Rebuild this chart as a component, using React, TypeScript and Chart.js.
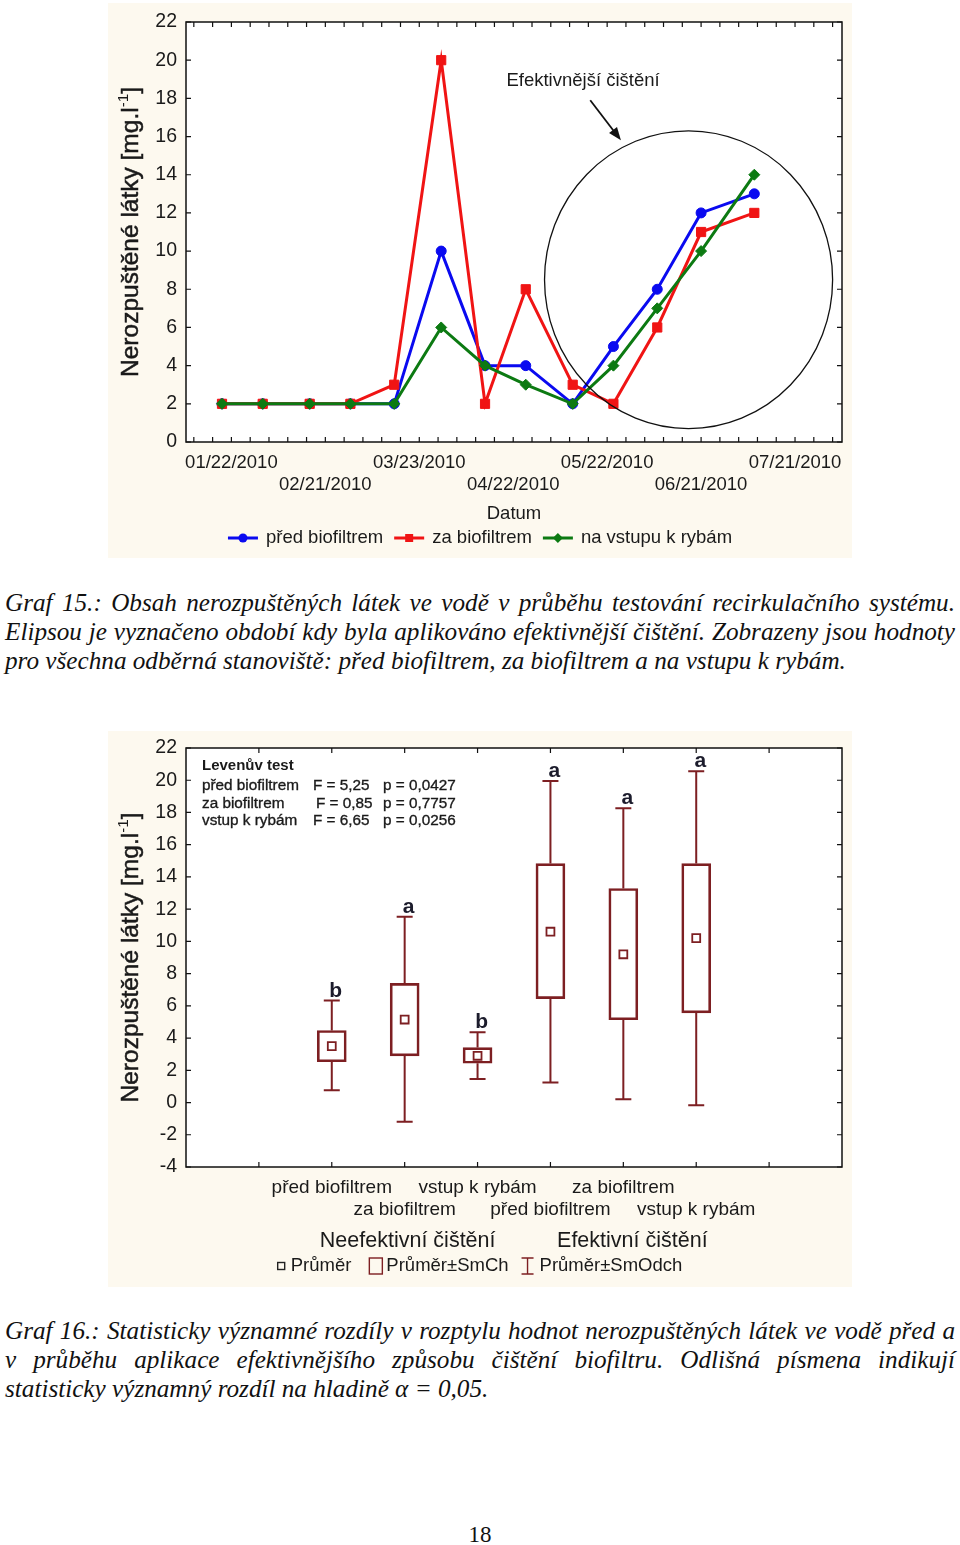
import React, { useEffect, useRef } from 'react';
import { Chart, registerables } from 'chart.js';

Chart.register(...registerables);

const FONT = '"Liberation Sans", Arial, sans-serif';
const SERIF = '"Liberation Serif", "Times New Roman", serif';
const INK = '#1a1a1a';

// ---------- Graf 15 data ----------
const sampleDates = ['2010-01-19', '2010-02-01', '2010-02-16', '2010-03-01', '2010-03-15', '2010-03-30', '2010-04-13', '2010-04-26', '2010-05-11', '2010-05-24', '2010-06-07', '2010-06-21', '2010-07-08'];
const predBiofiltrem = [2, 2, 2, 2, 2, 10, 4, 4, 2, 5, 8, 12, 13];
const zaBiofiltrem = [2, 2, 2, 2, 3, 20, 2, 8, 3, 2, 6, 11, 12];
const naVstupuKRybam = [2, 2, 2, 2, 2, 6, 4, 3, 2, 4, 7, 10, 14];
const dateTickLabels = ['01/22/2010', '02/21/2010', '03/23/2010', '04/22/2010', '05/22/2010', '06/21/2010', '07/21/2010'];
const seriesNames = ['před biofiltrem', 'za biofiltrem', 'na vstupu k rybám'];
const seriesColors = ['#0a0af0', '#f01414', '#0c7a12'];
const xTitle1 = 'Datum';
const ellipseNote = 'Efektivnější čištění';

// ---------- Graf 16 data ----------
const boxSites = ['před biofiltrem', 'za biofiltrem', 'vstup k rybám', 'před biofiltrem', 'za biofiltrem', 'vstup k rybám'];
const treatments = ['Neefektivní čištění', 'Efektivní čištění'];
const means = [3.5, 5.15, 2.9, 10.6, 9.2, 10.2];
const seLow = [2.53, 2.9, 2.44, 6.45, 5.14, 5.56];
const seHigh = [4.47, 7.39, 3.41, 14.83, 13.28, 14.83];
const sdLow = [0.76, -1.19, 1.46, 1.24, 0.2, -0.17];
const sdHigh = [6.33, 11.53, 4.36, 19.96, 18.26, 20.56];
const letters = ['b', 'a', 'b', 'a', 'a', 'a'];
const leveneTitle = 'Levenův test';
const leveneSites = ['před biofiltrem', 'za biofiltrem', 'vstup k rybám'];
const leveneF = ['F = 5,25', 'F = 0,85', 'F = 6,65'];
const leveneP = ['p = 0,0427', 'p = 0,7757', 'p = 0,0256'];
const boxLegend = ['Průměr', 'Průměr±SmCh', 'Průměr±SmOdch'];
const MAROON = '#7d1f22';

const caption1 = [
  'Graf 15.: Obsah nerozpuštěných látek ve vodě v průběhu testování recirkulačního systému.',
  'Elipsou je vyznačeno období kdy byla aplikováno efektivnější čištění. Zobrazeny jsou hodnoty',
  'pro všechna odběrná stanoviště: před biofiltrem, za biofiltrem a na vstupu k rybám.',
];
const caption2 = [
  'Graf 16.: Statisticky významné rozdíly v rozptylu hodnot nerozpuštěných látek ve vodě před a',
  'v průběhu aplikace efektivnějšího způsobu čištění biofiltru. Odlišná písmena indikují',
  'statisticky významný rozdíl na hladině α = 0,05.',
];
const pageNumber = '18';

// ---------- helpers ----------
const BASE = Date.parse('2010-01-22T00:00:00Z');
const dayIndex = (iso: string) => Math.round((Date.parse(iso + 'T00:00:00Z') - BASE) / 86400000);
const usToIso = (s: string) => {
  const [m, d, y] = s.split('/');
  return `${y}-${m}-${d}`;
};
const sampleDays = sampleDates.map(dayIndex);
const labelDays = dateTickLabels.map((s) => dayIndex(usToIso(s)));
const minorDays: number[] = [];
for (let d = -12; d <= 192; d += 6) minorDays.push(d);

function drawYTitle(ctx: CanvasRenderingContext2D, x: number, yc: number, px: number) {
  const main = 'Nerozpuštěné látky [mg.l';
  const sup = '-1';
  const end = ']';
  ctx.save();
  ctx.translate(x, yc);
  ctx.rotate(-Math.PI / 2);
  ctx.textBaseline = 'middle';
  ctx.textAlign = 'left';
  ctx.fillStyle = INK;
  ctx.strokeStyle = INK;
  ctx.lineWidth = 0.5;
  ctx.font = `${px}px ${FONT}`;
  const w1 = ctx.measureText(main).width;
  const w3 = ctx.measureText(end).width;
  ctx.font = `${px * 0.62}px ${FONT}`;
  const w2 = ctx.measureText(sup).width;
  let cx = -(w1 + w2 + w3) / 2;
  ctx.font = `${px}px ${FONT}`;
  ctx.fillText(main, cx, 0);
  ctx.strokeText(main, cx, 0);
  cx += w1;
  ctx.font = `${px * 0.62}px ${FONT}`;
  ctx.fillText(sup, cx, -px * 0.3);
  cx += w2;
  ctx.font = `${px}px ${FONT}`;
  ctx.fillText(end, cx, 0);
  ctx.strokeText(end, cx, 0);
  ctx.restore();
}

function paintBackground(chart: any) {
  const { ctx, chartArea: a } = chart;
  ctx.save();
  ctx.fillStyle = '#fdf9ef';
  ctx.fillRect(0, 0, chart.width, chart.height);
  ctx.fillStyle = '#ffffff';
  ctx.fillRect(a.left, a.top, a.right - a.left, a.bottom - a.top);
  ctx.restore();
}

function drawFrame(chart: any) {
  const { ctx, chartArea: a, scales } = chart;
  ctx.save();
  ctx.strokeStyle = '#111';
  ctx.lineWidth = 1.5;
  ctx.strokeRect(a.left, a.top, a.right - a.left, a.bottom - a.top);
  ctx.lineWidth = 1.2;
  ctx.beginPath();
  for (const t of scales.x.ticks) {
    const p = scales.x.getPixelForValue(t.value);
    ctx.moveTo(p, a.bottom);
    ctx.lineTo(p, a.bottom - 5);
    ctx.moveTo(p, a.top);
    ctx.lineTo(p, a.top + 5);
  }
  for (const t of scales.y.ticks) {
    const p = scales.y.getPixelForValue(t.value);
    ctx.moveTo(a.left, p);
    ctx.lineTo(a.left + 5, p);
    ctx.moveTo(a.right, p);
    ctx.lineTo(a.right - 5, p);
  }
  ctx.stroke();
  ctx.restore();
}

function drawMarker(ctx: CanvasRenderingContext2D, style: string, x: number, y: number, color: string) {
  ctx.fillStyle = color;
  ctx.beginPath();
  if (style === 'circle') ctx.arc(x, y, 4.5, 0, Math.PI * 2);
  else if (style === 'rect') ctx.rect(x - 4, y - 4, 8, 8);
  else {
    ctx.moveTo(x, y - 5);
    ctx.lineTo(x + 5, y);
    ctx.lineTo(x, y + 5);
    ctx.lineTo(x - 5, y);
    ctx.closePath();
  }
  ctx.fill();
}

const decor1 = {
  id: 'decor1',
  beforeDraw(chart: any) {
    paintBackground(chart);
  },
  afterDraw(chart: any) {
    const { ctx, chartArea: a, scales } = chart;
    const xs = scales.x;
    const ys = scales.y;
    drawFrame(chart);
    // ellipse marking the effective period
    const cx = xs.getPixelForValue(146);
    const cy = ys.getPixelForValue(8.5);
    const rx = Math.abs(xs.getPixelForValue(146 + 46) - cx);
    const ry = Math.abs(ys.getPixelForValue(8.5 + 7.8) - cy);
    ctx.save();
    ctx.strokeStyle = '#111';
    ctx.lineWidth = 1.3;
    ctx.beginPath();
    ctx.ellipse(cx, cy, rx, ry, 0, 0, Math.PI * 2);
    ctx.stroke();
    // arrow
    const x0 = xs.getPixelForValue(114.6);
    const y0 = ys.getPixelForValue(17.9);
    const x1 = xs.getPixelForValue(124.4);
    const y1 = ys.getPixelForValue(15.8);
    const ang = Math.atan2(y1 - y0, x1 - x0);
    ctx.lineWidth = 1.8;
    ctx.beginPath();
    ctx.moveTo(x0, y0);
    ctx.lineTo(x1 - 8 * Math.cos(ang), y1 - 8 * Math.sin(ang));
    ctx.stroke();
    ctx.fillStyle = '#111';
    ctx.beginPath();
    ctx.moveTo(x1, y1);
    ctx.lineTo(x1 - 13 * Math.cos(ang) + 5 * Math.sin(ang), y1 - 13 * Math.sin(ang) - 5 * Math.cos(ang));
    ctx.lineTo(x1 - 13 * Math.cos(ang) - 5 * Math.sin(ang), y1 - 13 * Math.sin(ang) + 5 * Math.cos(ang));
    ctx.closePath();
    ctx.fill();
    ctx.font = `18.5px ${FONT}`;
    ctx.textAlign = 'center';
    ctx.textBaseline = 'middle';
    ctx.fillStyle = INK;
    ctx.fillText(ellipseNote, xs.getPixelForValue(112.3), ys.getPixelForValue(18.9));
    // x title
    ctx.font = `18.5px ${FONT}`;
    ctx.fillText(xTitle1, (a.left + a.right) / 2, a.bottom + 72);
    // legend
    const styles = ['circle', 'rect', 'rectRot'];
    ctx.font = `18.5px ${FONT}`;
    const widths = seriesNames.map((n) => ctx.measureText(n).width);
    const total = widths.reduce((s, w) => s + w + 38, 0) + 11 * (seriesNames.length - 1);
    let lx = chart.width / 2 - total / 2;
    const ly = a.bottom + 96;
    seriesNames.forEach((n, i) => {
      ctx.strokeStyle = seriesColors[i];
      ctx.lineWidth = 3;
      ctx.beginPath();
      ctx.moveTo(lx, ly);
      ctx.lineTo(lx + 30, ly);
      ctx.stroke();
      drawMarker(ctx, styles[i], lx + 15, ly, seriesColors[i]);
      ctx.fillStyle = INK;
      ctx.textAlign = 'left';
      ctx.fillText(n, lx + 38, ly);
      lx += 38 + widths[i] + 11;
    });
    ctx.restore();
    drawYTitle(ctx, 23, (a.top + a.bottom) / 2, 24.5);
  },
};

const boxX = boxSites.map((_, i) => i + 2);

const decor2 = {
  id: 'decor2',
  beforeDraw(chart: any) {
    paintBackground(chart);
  },
  beforeDatasetsDraw(chart: any) {
    const { ctx, scales } = chart;
    const xs = scales.x;
    const ys = scales.y;
    ctx.save();
    ctx.strokeStyle = MAROON;
    ctx.lineWidth = 2;
    boxX.forEach((bx, i) => {
      const px = xs.getPixelForValue(bx);
      const yTop = ys.getPixelForValue(sdHigh[i]);
      const yBot = ys.getPixelForValue(sdLow[i]);
      ctx.beginPath();
      ctx.moveTo(px, yTop);
      ctx.lineTo(px, ys.getPixelForValue(seHigh[i]));
      ctx.moveTo(px, ys.getPixelForValue(seLow[i]));
      ctx.lineTo(px, yBot);
      ctx.moveTo(px - 8, yTop);
      ctx.lineTo(px + 8, yTop);
      ctx.moveTo(px - 8, yBot);
      ctx.lineTo(px + 8, yBot);
      ctx.stroke();
      ctx.fillStyle = '#1c1c2c';
      ctx.font = `bold 21px ${FONT}`;
      ctx.textAlign = 'center';
      ctx.textBaseline = 'alphabetic';
      ctx.fillText(letters[i], px + 4, yTop - 4);
    });
    ctx.restore();
  },
  afterDraw(chart: any) {
    const { ctx, chartArea: a, scales } = chart;
    const xs = scales.x;
    drawFrame(chart);
    ctx.save();
    ctx.fillStyle = INK;
    ctx.textAlign = 'left';
    ctx.textBaseline = 'middle';
    ctx.font = `bold 15px ${FONT}`;
    ctx.fillText(leveneTitle, a.left + 16, a.top + 18);
    ctx.font = `15.3px ${FONT}`;
    ctx.strokeStyle = INK;
    ctx.lineWidth = 0.35;
    leveneSites.forEach((s, i) => {
      const y = a.top + 38 + i * 17.5;
      ctx.fillText(s, a.left + 16, y);
      ctx.strokeText(s, a.left + 16, y);
      const fx = a.left + 127 + (i === 1 ? 3 : 0);
      ctx.fillText(leveneF[i], fx, y);
      ctx.strokeText(leveneF[i], fx, y);
      ctx.fillText(leveneP[i], a.left + 197, y);
      ctx.strokeText(leveneP[i], a.left + 197, y);
    });
    // treatment group labels
    ctx.font = `21.5px ${FONT}`;
    ctx.textAlign = 'center';
    const g1 = (xs.getPixelForValue(boxX[0]) + xs.getPixelForValue(boxX[2])) / 2 + 3;
    const g2 = (xs.getPixelForValue(boxX[3]) + xs.getPixelForValue(boxX[5])) / 2 + 9;
    ctx.fillText(treatments[0], g1, a.bottom + 74);
    ctx.fillText(treatments[1], g2, a.bottom + 74);
    // legend
    ctx.font = `18.5px ${FONT}`;
    const iconW = [7, 13, 12];
    const widths = boxLegend.map((t) => ctx.measureText(t).width);
    const gaps = [6, 4, 6];
    let total = 0;
    boxLegend.forEach((_, i) => {
      total += iconW[i] + gaps[i] + widths[i];
    });
    total += 18 + 13;
    let lx = chart.width / 2 - total / 2;
    const ly = a.bottom + 99;
    ctx.textAlign = 'left';
    boxLegend.forEach((t, i) => {
      ctx.lineWidth = 1.4;
      if (i === 0) {
        ctx.strokeStyle = '#222';
        ctx.strokeRect(lx, ly - 3.5, 7, 7);
      } else if (i === 1) {
        ctx.strokeStyle = MAROON;
        ctx.strokeRect(lx, ly - 8, 13, 16);
      } else {
        ctx.strokeStyle = MAROON;
        ctx.beginPath();
        ctx.moveTo(lx + 6, ly - 8);
        ctx.lineTo(lx + 6, ly + 8);
        ctx.moveTo(lx, ly - 8);
        ctx.lineTo(lx + 12, ly - 8);
        ctx.moveTo(lx, ly + 8);
        ctx.lineTo(lx + 12, ly + 8);
        ctx.stroke();
      }
      lx += iconW[i] + gaps[i];
      ctx.fillStyle = INK;
      ctx.fillText(t, lx, ly);
      lx += widths[i] + (i === 0 ? 18 : 13);
    });
    ctx.restore();
    drawYTitle(ctx, 23, (a.top + a.bottom) / 2, 24.5);
  },
};

function LineChart() {
  const ref = useRef<HTMLCanvasElement>(null);
  useEffect(() => {
    const toPts = (vals: number[]) => vals.map((v, i) => ({ x: sampleDays[i], y: v }));
    const chart = new Chart(ref.current as HTMLCanvasElement, {
      type: 'line',
      data: {
        datasets: [
          { label: seriesNames[0], data: toPts(predBiofiltrem), borderColor: seriesColors[0], backgroundColor: seriesColors[0], pointStyle: 'circle', pointRadius: 5, pointBorderWidth: 1, borderWidth: 3, order: 3 },
          { label: seriesNames[1], data: toPts(zaBiofiltrem), borderColor: seriesColors[1], backgroundColor: seriesColors[1], pointStyle: 'rect', pointRadius: 6.5, pointBorderWidth: 1, borderWidth: 3, order: 2 },
          { label: seriesNames[2], data: toPts(naVstupuKRybam), borderColor: seriesColors[2], backgroundColor: seriesColors[2], pointStyle: 'rectRot', pointRadius: 5.5, pointBorderWidth: 1, borderWidth: 3, order: 1 },
        ],
      } as any,
      options: {
        responsive: false,
        animation: false,
        events: [],
        layout: { padding: { top: 19, right: 10, left: 0, bottom: 0 } },
        plugins: { legend: { display: false }, tooltip: { enabled: false } },
        scales: {
          x: {
            type: 'linear',
            min: -14.5,
            max: 195,
            grid: { display: false },
            border: { display: false },
            afterBuildTicks: (s: any) => {
              s.ticks = minorDays.map((v) => ({ value: v }));
            },
            afterFit: (s: any) => {
              s.height = 116;
            },
            ticks: {
              autoSkip: false,
              maxRotation: 0,
              minRotation: 0,
              padding: 2,
              color: INK,
              font: { family: FONT, size: 18.5 },
              callback: (v: any) => {
                const i = labelDays.indexOf(Number(v));
                if (i < 0) return '';
                return i % 2 === 0 ? [dateTickLabels[i], ''] : ['', dateTickLabels[i]];
              },
            },
          },
          y: {
            min: 0,
            max: 22,
            grid: { display: false },
            border: { display: false },
            afterFit: (s: any) => {
              s.width = 78;
            },
            ticks: { stepSize: 2, padding: 1, color: INK, font: { family: FONT, size: 19.5 } },
          },
        },
      } as any,
      plugins: [decor1],
    });
    return () => chart.destroy();
  }, []);
  return <canvas ref={ref} width={744} height={555} style={{ display: 'block' }} />;
}

function BoxChart() {
  const ref = useRef<HTMLCanvasElement>(null);
  useEffect(() => {
    const chart = new Chart(ref.current as HTMLCanvasElement, {
      type: 'bar',
      data: {
        datasets: [
          {
            type: 'scatter',
            data: means.map((m, i) => ({ x: boxX[i], y: m })),
            pointStyle: 'rect',
            pointRadius: 5.6,
            pointBorderWidth: 1.8,
            borderColor: MAROON,
            backgroundColor: 'rgba(0,0,0,0)',
            order: 0,
          },
          {
            type: 'bar',
            data: boxX.map((x, i) => ({ x, y: [seLow[i], seHigh[i]] })),
            borderColor: MAROON,
            backgroundColor: 'rgba(0,0,0,0)',
            borderWidth: 2,
            borderSkipped: false,
            barThickness: 29,
            grouped: false,
            order: 1,
          },
        ],
      } as any,
      options: {
        responsive: false,
        animation: false,
        events: [],
        layout: { padding: { top: 17, right: 10, left: 0, bottom: 0 } },
        plugins: { legend: { display: false }, tooltip: { enabled: false } },
        scales: {
          x: {
            type: 'linear',
            min: 0,
            max: 9,
            offset: false,
            grid: { display: false },
            border: { display: false },
            afterBuildTicks: (s: any) => {
              s.ticks = [1, 2, 3, 4, 5, 6, 7, 8].map((v) => ({ value: v }));
            },
            afterFit: (s: any) => {
              s.height = 120;
            },
            ticks: {
              autoSkip: false,
              maxRotation: 0,
              minRotation: 0,
              padding: 1,
              color: INK,
              font: { family: FONT, size: 19 },
              callback: (v: any) => {
                const i = boxX.indexOf(Number(v));
                if (i < 0) return '';
                return i % 2 === 0 ? [boxSites[i], ''] : ['', boxSites[i]];
              },
            },
          },
          y: {
            min: -4,
            max: 22,
            grid: { display: false },
            border: { display: false },
            afterFit: (s: any) => {
              s.width = 78;
            },
            ticks: { stepSize: 2, padding: 1, color: INK, font: { family: FONT, size: 19.5 } },
          },
        },
      } as any,
      plugins: [decor2],
    });
    return () => chart.destroy();
  }, []);
  return <canvas ref={ref} width={744} height={556} style={{ display: 'block' }} />;
}

function Caption({ lines, top }: { lines: string[]; top: number }) {
  return (
    <>
      {lines.map((l, i) => (
        <div
          key={i}
          style={{
            position: 'absolute',
            left: 5,
            top: top + i * 29,
            width: 950,
            height: 29,
            lineHeight: '29px',
            fontFamily: SERIF,
            fontStyle: 'italic',
            fontSize: 25.2,
            color: '#111',
            whiteSpace: 'nowrap',
            textAlign: i < lines.length - 1 ? 'justify' : 'left',
            textAlignLast: i < lines.length - 1 ? 'justify' : 'left',
          } as any}
        >
          {l}
        </div>
      ))}
    </>
  );
}

export default function App() {
  return (
    <div style={{ position: 'absolute', left: 0, top: 0, width: 960, height: 1545, background: '#fff', overflow: 'hidden' }}>
      <div style={{ position: 'absolute', left: 108, top: 3 }}>
        <LineChart />
      </div>
      <Caption lines={caption1} top={588} />
      <div style={{ position: 'absolute', left: 108, top: 731 }}>
        <BoxChart />
      </div>
      <Caption lines={caption2} top={1316} />
      <div style={{ position: 'absolute', left: 0, width: 960, top: 1520, textAlign: 'center', fontFamily: SERIF, fontSize: 23, lineHeight: '30px', color: '#111' }}>
        {pageNumber}
      </div>
    </div>
  );
}
